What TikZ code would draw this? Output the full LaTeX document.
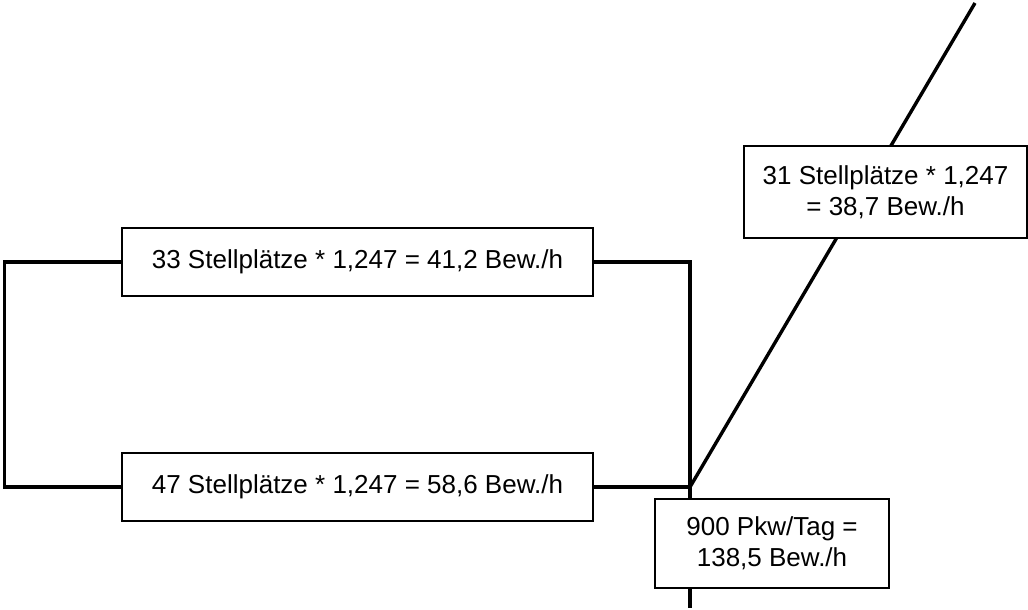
\documentclass[tikz,border=0pt]{standalone}
\usepackage{fontspec}
\setmainfont{Liberation Sans}
\usetikzlibrary{positioning,calc,backgrounds}

\tikzset{
  rechnung/.style={draw, line width=1.6pt, fill=white, align=center,
    inner sep=0pt, font=\fontsize{26}{31}\selectfont},
  leitung/.style={line width=3.4pt}
}

\begin{document}
\begin{tikzpicture}[x=1pt,y=-1pt]
  \useasboundingbox (0,0) rectangle (1028,610);

  % Stellplatz-Anlagen
  \node[rechnung, minimum width=471, minimum height=68] (oben) at (357.5,262)
    {33 Stellplätze * 1,247 = 41,2 Bew./h};
  \node[rechnung, minimum width=471, minimum height=68] (unten) at (357.5,487)
    {47 Stellplätze * 1,247 = 58,6 Bew./h};
  \node[rechnung, minimum width=283, minimum height=92] (rechts) at (885.5,192)
    {31 Stellplätze * 1,247\\= 38,7 Bew./h};
  \node[rechnung, minimum width=234, minimum height=89] (summe) at (772,543.5)
    {900 Pkw/Tag =\\138,5 Bew./h};

  % Knoten und Enden
  \coordinate (knoten) at (690,487);
  \coordinate (ende) at (975,3);
  \coordinate (fuss) at (690,608);

  \begin{scope}[on background layer]
    \draw[leitung] (oben.west) -- ++(-117,0) |- (unten.west);
    \draw[leitung] (oben.east) -| (knoten) -- (unten.east);
    \draw[leitung] (knoten) -- (ende);
    \draw[leitung] (knoten) -- (fuss);
  \end{scope}
\end{tikzpicture}
\end{document}
